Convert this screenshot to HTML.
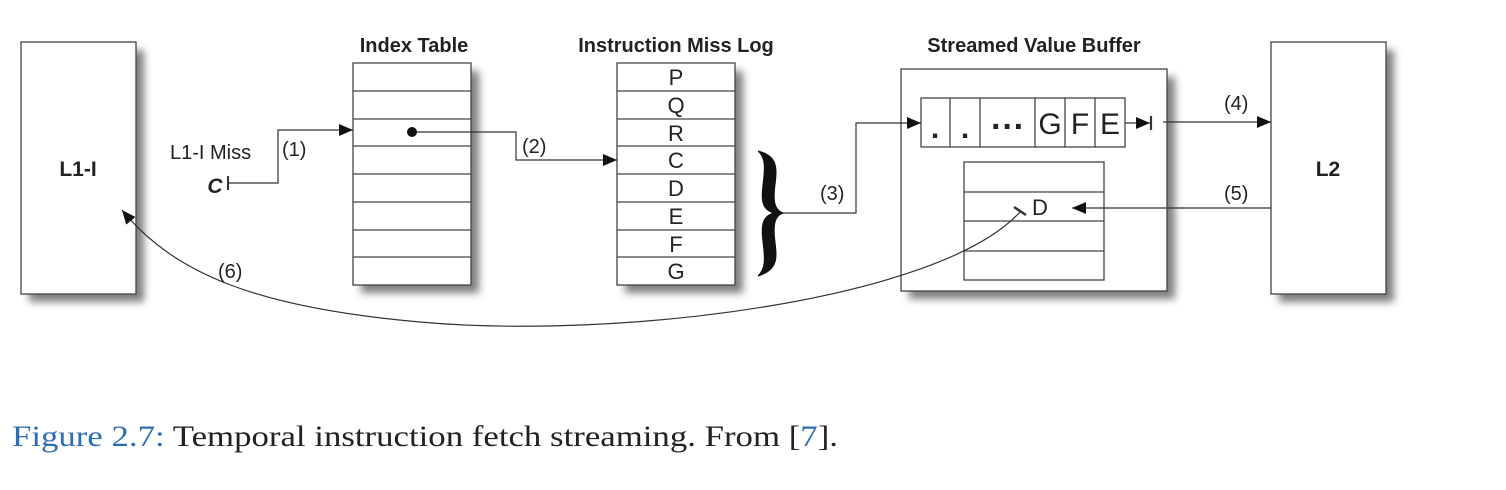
<!DOCTYPE html>
<html><head><meta charset="utf-8"><style>
html,body{margin:0;padding:0;background:#fff;width:1506px;height:490px;overflow:hidden}
svg{display:block}
.s{font-family:"Liberation Sans",sans-serif;fill:#222}
</style></head><body>
<svg width="1506" height="490" viewBox="0 0 1506 490" xmlns="http://www.w3.org/2000/svg">
<defs>
<filter id="sh" x="-20%" y="-20%" width="150%" height="150%"><feGaussianBlur stdDeviation="4"/></filter>
<marker id="ar" markerWidth="14" markerHeight="12" refX="14" refY="6" orient="auto" markerUnits="userSpaceOnUse"><path d="M0,0 L14,6 L0,12 z" fill="#111"/></marker>
</defs>
<g fill="#555" filter="url(#sh)" opacity="0.75">
<rect x="29" y="50" width="115" height="252"/>
<rect x="361" y="71" width="118" height="222"/>
<rect x="625" y="71" width="118" height="222"/>
<rect x="909" y="77" width="266" height="222"/>
<rect x="1279" y="50" width="115" height="252"/>
</g>
<g fill="#fff" stroke="#444" stroke-width="1.3">
<rect x="21" y="42" width="115" height="252"/>
<rect x="353" y="63" width="118" height="222"/>
<rect x="617" y="63" width="118" height="222"/>
<rect x="901" y="69" width="266" height="222"/>
<rect x="1271" y="42" width="115" height="252"/>
<rect x="921" y="98" width="204" height="49"/>
<rect x="964" y="162" width="140" height="118"/>
</g>
<g stroke="#444" stroke-width="1.3">
<line x1="353" y1="91" x2="471" y2="91"/><line x1="353" y1="119" x2="471" y2="119"/><line x1="353" y1="146" x2="471" y2="146"/><line x1="353" y1="174" x2="471" y2="174"/><line x1="353" y1="202" x2="471" y2="202"/><line x1="353" y1="230" x2="471" y2="230"/><line x1="353" y1="257" x2="471" y2="257"/>
<line x1="617" y1="91" x2="735" y2="91"/><line x1="617" y1="119" x2="735" y2="119"/><line x1="617" y1="146" x2="735" y2="146"/><line x1="617" y1="174" x2="735" y2="174"/><line x1="617" y1="202" x2="735" y2="202"/><line x1="617" y1="230" x2="735" y2="230"/><line x1="617" y1="257" x2="735" y2="257"/>
<line x1="950" y1="98" x2="950" y2="147"/><line x1="980" y1="98" x2="980" y2="147"/><line x1="1035" y1="98" x2="1035" y2="147"/><line x1="1065" y1="98" x2="1065" y2="147"/><line x1="1095" y1="98" x2="1095" y2="147"/>
<line x1="964" y1="192" x2="1104" y2="192"/><line x1="964" y1="221" x2="1104" y2="221"/><line x1="964" y1="251" x2="1104" y2="251"/>
</g>
<g class="s" font-size="22" text-anchor="middle">
<text x="676" y="85">P</text><text x="676" y="113">Q</text><text x="676" y="141">R</text><text x="676" y="168">C</text><text x="676" y="196">D</text><text x="676" y="224">E</text><text x="676" y="252">F</text><text x="676" y="279">G</text>
</g>
<g class="s" font-size="30" text-anchor="middle">
<text x="935" y="138" font-weight="bold">.</text><text x="965" y="138" font-weight="bold">.</text><text x="1008" y="138" font-weight="bold" font-size="34">···</text><text x="1050" y="134">G</text><text x="1080" y="134">F</text><text x="1110" y="134">E</text>
</g>
<text class="s" x="1040" y="215" font-size="22" text-anchor="middle">D</text>
<g class="s" font-size="20" font-weight="bold" text-anchor="middle">
<text x="414" y="52">Index Table</text><text x="676" y="52">Instruction Miss Log</text><text x="1034" y="52">Streamed Value Buffer</text>
<text x="78" y="176" font-size="21">L1-I</text><text x="1328" y="176" font-size="21">L2</text>
<text x="215" y="193" font-style="italic" font-size="21">C</text>
</g>
<g class="s" font-size="20">
<text x="170" y="159">L1-I Miss</text><text x="282" y="156">(1)</text><text x="522" y="153">(2)</text><text x="820" y="200">(3)</text><text x="1224" y="110">(4)</text><text x="1224" y="200">(5)</text><text x="218" y="278">(6)</text>
</g>
<g stroke="#333" stroke-width="1.2" fill="none">
<line x1="228" y1="176" x2="228" y2="190" stroke-width="2"/>
<polyline points="228,183 278,183 278,130 353,130" marker-end="url(#ar)"/>
<polyline points="412,132 516,132 516,160 617,160" marker-end="url(#ar)"/>
<polyline points="783,213 856,213 856,123 921,123" marker-end="url(#ar)"/>
<line x1="1125" y1="123" x2="1150" y2="123" marker-end="url(#ar)"/>
<line x1="1151" y1="116" x2="1151" y2="130" stroke-width="2.2"/>
<line x1="1163" y1="122" x2="1271" y2="122" marker-end="url(#ar)"/>
<line x1="1271" y1="208" x2="1072" y2="208" marker-end="url(#ar)"/>
<line x1="1014" y1="207" x2="1026" y2="215" stroke-width="2.5"/>
<path d="M1020,212 C940,300 620,340 420,322 C260,308 175,275 122,210" marker-end="url(#ar)"/>
</g>
<circle cx="412" cy="132" r="5" fill="#111"/>
<path d="M758,151 C778,156 777,168 775,185 C773,200 774,210 783,213 C774,216 773,226 775,242 C777,258 778,270 758,276 C766,268 765,258 763,242 C761,226 762,216 774,213 C762,210 761,200 763,185 C765,168 766,158 758,151 z" fill="#111" stroke="#111" stroke-width="1"/>
<text x="12" y="446" font-size="30" textLength="826" lengthAdjust="spacingAndGlyphs" style="font-family:'Liberation Serif',serif;fill:#222"><tspan fill="#2e6db4">Figure 2.7:</tspan> Temporal instruction fetch streaming. From [<tspan fill="#2e6db4">7</tspan>].</text>
</svg>
</body></html>
